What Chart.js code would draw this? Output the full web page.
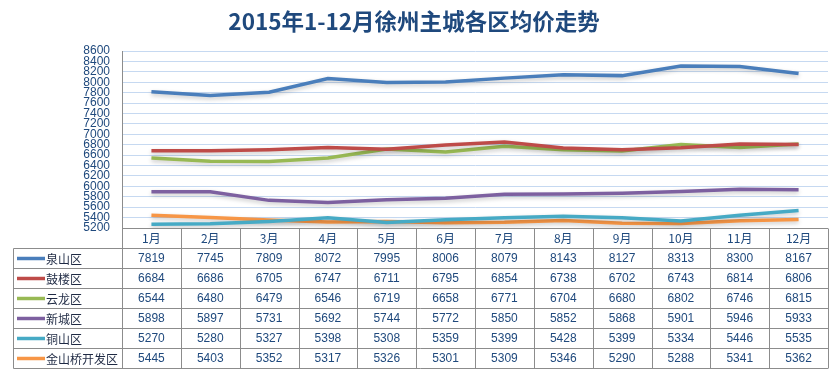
<!DOCTYPE html>
<html>
<head>
<meta charset="utf-8">
<script src="https://cdn.jsdelivr.net/npm/chart.js@4.4.1/dist/chart.umd.min.js"></script>
<style>
  html, body { margin: 0; padding: 0; background: #fff; }
  #wrap { width: 840px; height: 374px; }
</style>
</head>
<body>
<div id="wrap"><canvas id="myChart" width="840" height="374"></canvas></div>
<script>
const months = ['1月', '2月', '3月', '4月', '5月', '6月', '7月', '8月', '9月', '10月', '11月', '12月'];
const districts = ['泉山区', '鼓楼区', '云龙区', '新城区', '铜山区', '金山桥开发区'];
const quanshan = [7819, 7745, 7809, 8072, 7995, 8006, 8079, 8143, 8127, 8313, 8300, 8167];
const gulou = [6684, 6686, 6705, 6747, 6711, 6795, 6854, 6738, 6702, 6743, 6814, 6806];
const yunlong = [6544, 6480, 6479, 6546, 6719, 6658, 6771, 6704, 6680, 6802, 6746, 6815];
const xincheng = [5898, 5897, 5731, 5692, 5744, 5772, 5850, 5852, 5868, 5901, 5946, 5933];
const tongshan = [5270, 5280, 5327, 5398, 5308, 5359, 5399, 5428, 5399, 5334, 5446, 5535];
const jinshanqiao = [5445, 5403, 5352, 5317, 5326, 5301, 5309, 5346, 5290, 5288, 5341, 5362];

const colors = ['#4A7EBB', '#BE4B48', '#98B954', '#7D60A0', '#46AAC5', '#F79646'];
const allData = [quanshan, gulou, yunlong, xincheng, tongshan, jinshanqiao];

const textBlue = '#1F497D';
const cjkFont = '"Noto Sans CJK SC", "Noto Sans", sans-serif';
const numFont = '"Liberation Sans", Arial, sans-serif';

// soft shadow under the lines, like the Excel original
const lineShadow = {
  id: 'lineShadow',
  beforeDatasetsDraw(chart) {
    const ctx = chart.ctx;
    ctx.save();
    ctx.shadowColor = 'rgba(0,0,0,0.22)';
    ctx.shadowBlur = 4;
    ctx.shadowOffsetY = 2;
  },
  afterDatasetsDraw(chart) {
    chart.ctx.restore();
  }
};

// data table under the plot, columns follow the x scale
const dataTable = {
  id: 'dataTable',
  afterDraw(chart) {
    const ctx = chart.ctx;
    const a = chart.chartArea;
    const x = chart.scales.x;
    const colW = (a.right - a.left) / months.length;
    const rowH = 20;
    const top = Math.round(a.bottom) + 0.5;
    const legLeft = 13.5;
    const bottom = top + rowH * (districts.length + 1);

    ctx.save();
    ctx.strokeStyle = '#8C8C8C';
    ctx.lineWidth = 1;
    ctx.beginPath();
    // header top line (only over the month columns)
    ctx.moveTo(a.left, top);
    ctx.lineTo(a.right, top);
    // series rows
    for (let r = 1; r <= districts.length + 1; r++) {
      const y = top + r * rowH;
      ctx.moveTo(legLeft, y);
      ctx.lineTo(a.right, y);
    }
    // column lines
    for (let c = 0; c <= months.length; c++) {
      const xx = Math.round(a.left + c * colW) + 0.5;
      ctx.moveTo(xx, top);
      ctx.lineTo(xx, bottom);
    }
    ctx.moveTo(legLeft, top + rowH);
    ctx.lineTo(legLeft, bottom);
    ctx.stroke();

    ctx.textAlign = 'center';
    ctx.textBaseline = 'middle';
    ctx.fillStyle = textBlue;
    ctx.font = '12px ' + cjkFont;
    months.forEach((m, i) => {
      ctx.fillText(m, x.getPixelForValue(i), top + rowH / 2);
    });

    ctx.font = '12px ' + numFont;
    allData.forEach((vals, j) => {
      const y = top + rowH * (j + 1) + rowH / 2;
      vals.forEach((v, i) => {
        ctx.fillText(String(v), x.getPixelForValue(i), y);
      });
    });

    // legend keys and names
    ctx.textAlign = 'left';
    ctx.font = '12px ' + cjkFont;
    districts.forEach((name, j) => {
      const y = top + rowH * (j + 1) + rowH / 2;
      ctx.strokeStyle = colors[j];
      ctx.lineWidth = 3.5;
      ctx.beginPath();
      ctx.moveTo(17, y);
      ctx.lineTo(45, y);
      ctx.stroke();
      ctx.fillStyle = '#1F2A44';
      ctx.fillText(name, 46, y + 0.5);
    });
    ctx.restore();
  }
};

const ctx = document.getElementById('myChart');

new Chart(ctx, {
  type: 'line',
  data: {
    labels: months,
    datasets: districts.map((name, j) => ({
      label: name,
      data: allData[j],
      borderColor: colors[j],
      backgroundColor: colors[j],
      borderWidth: 3.5,
      pointRadius: 0,
      tension: 0
    }))
  },
  options: {
    responsive: false,
    animation: false,
    layout: {
      padding: { top: 0, right: 12, bottom: 146, left: 0 }
    },
    plugins: {
      legend: { display: false },
      tooltip: { enabled: false },
      title: {
        display: true,
        text: '2015年1-12月徐州主城各区均价走势',
        color: textBlue,
        font: { size: 22.5, weight: 'bold', family: cjkFont },
        padding: { top: 8, bottom: 16 }
      }
    },
    scales: {
      x: {
        display: false,
        offset: true
      },
      y: {
        min: 5200,
        max: 8600,
        afterFit(scale) { scale.width = 122; },
        ticks: {
          stepSize: 200,
          autoSkip: false,
          padding: 12,
          color: textBlue,
          font: { size: 12, family: numFont },
          callback: (v) => String(v)
        },
        grid: {
          color: '#C6D9F1',
          drawTicks: false
        },
        border: {
          color: '#8C8C8C'
        }
      }
    }
  },
  plugins: [lineShadow, dataTable]
});
</script>
</body>
</html>
